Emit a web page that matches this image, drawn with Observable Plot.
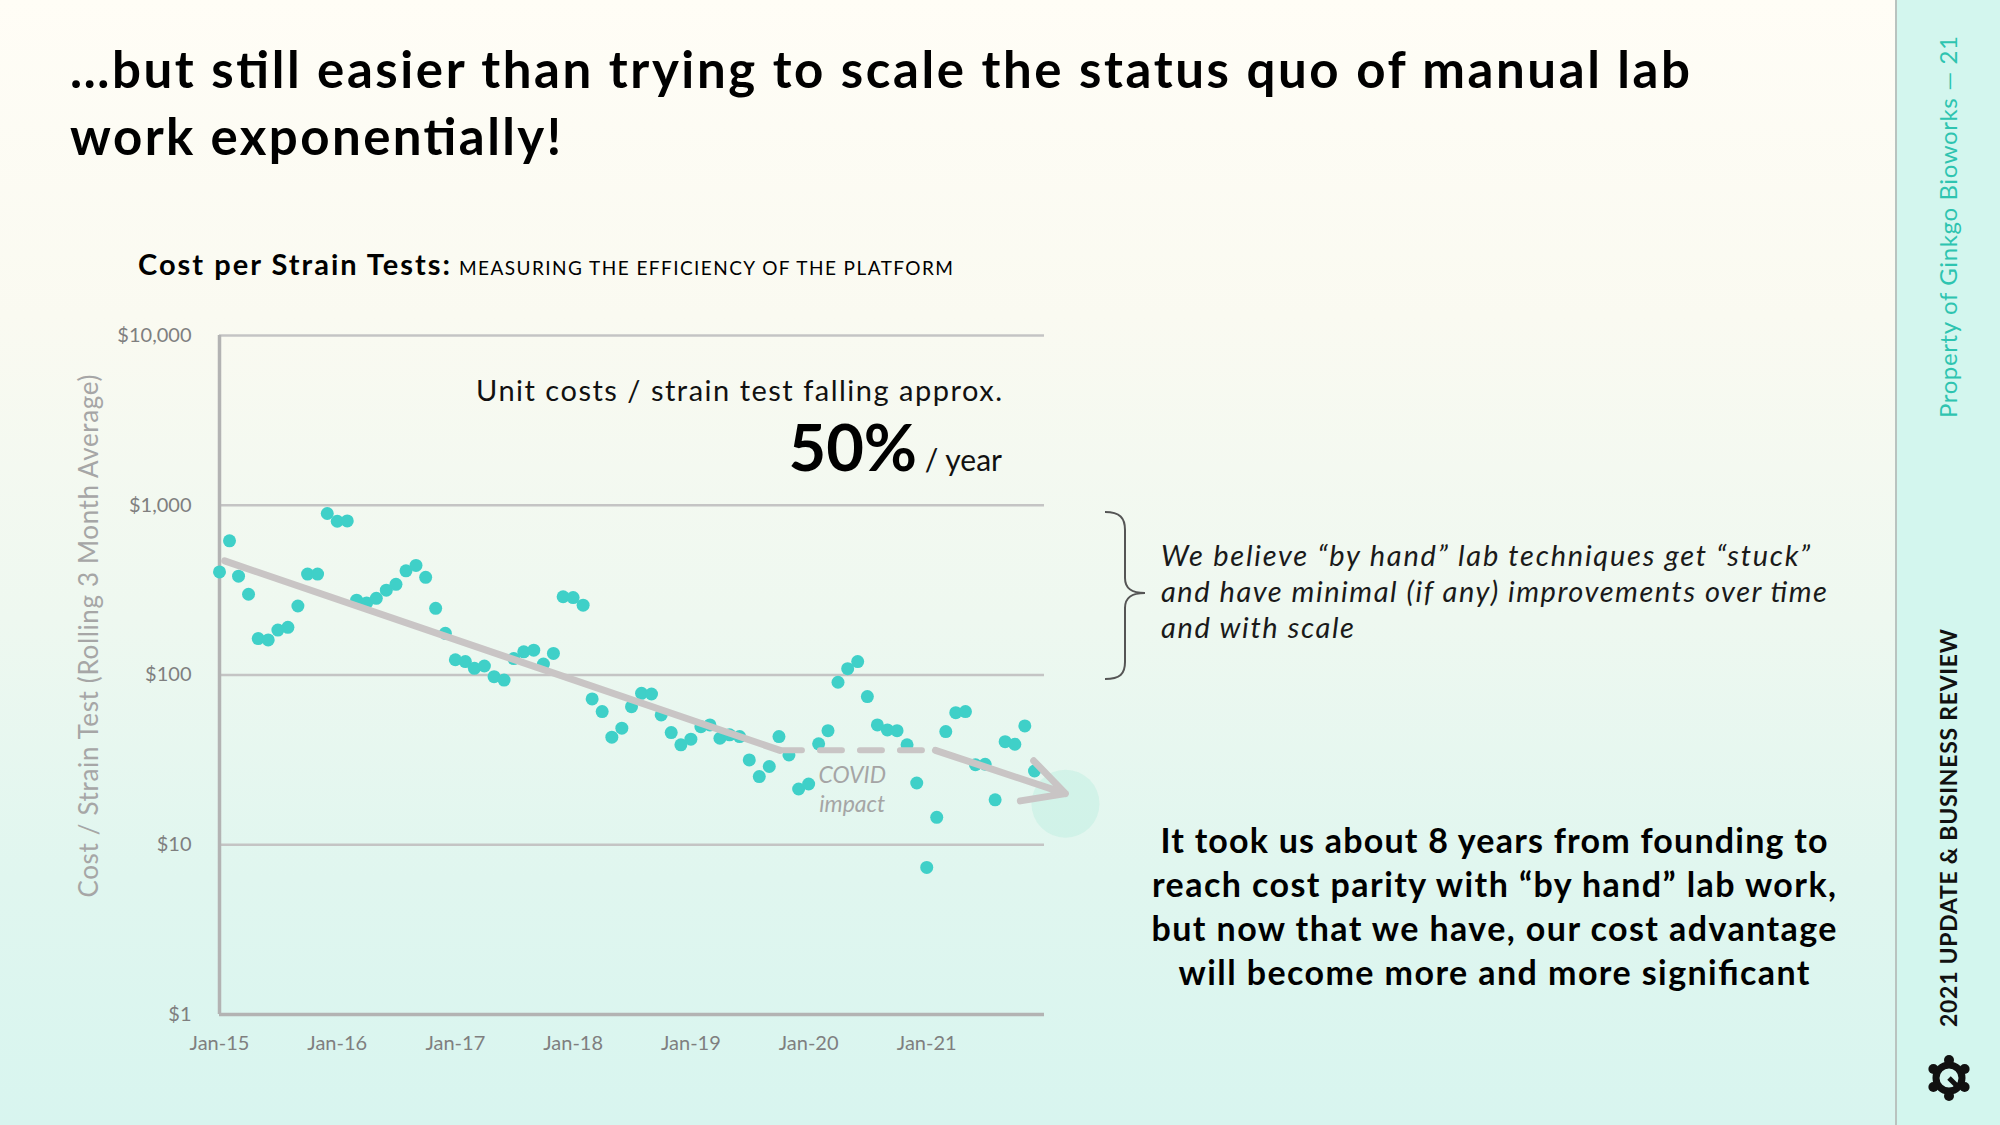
<!DOCTYPE html>
<html><head><meta charset="utf-8">
<script src="https://cdn.jsdelivr.net/npm/d3@7"></script>
<script src="https://cdn.jsdelivr.net/npm/@observablehq/plot@0.6"></script>
<style>
html,body{margin:0;padding:0;}
body{width:2000px;height:1125px;overflow:hidden;position:relative;font-family:Lato,"Noto Sans",sans-serif;
background:linear-gradient(180deg,#fffdf6 0%,#fafaf1 28%,#eef8f0 55%,#e0f6ef 78%,#d8f5ef 100%);}
#panel{position:absolute;left:1895px;top:0;width:105px;height:1125px;background:#d3f6ee;border-left:2px solid #b9c3bf;}
#chart{position:absolute;left:0;top:300px;}
#overlay{position:absolute;left:0;top:0;pointer-events:none;}
</style></head><body>
<div id="panel"></div>
<div id="chart"></div>
<svg id="overlay" width="2000" height="1125" font-family="Lato, 'Noto Sans', sans-serif">
  <text x="70" y="88" font-size="51" font-weight="700" fill="#000" textLength="1620" lengthAdjust="spacing">…but still easier than trying to scale the status quo of manual lab</text>
  <text x="70" y="155" font-size="51" font-weight="700" fill="#000" textLength="491" lengthAdjust="spacing">work exponentially!</text>
  <text x="138" y="275" font-size="29" font-weight="700" fill="#000" textLength="312" lengthAdjust="spacing">Cost per Strain Tests:</text>
  <text x="459" y="275" font-size="19" font-weight="400" fill="#000" textLength="494" lengthAdjust="spacing">MEASURING THE EFFICIENCY OF THE PLATFORM</text>
  <text x="1002" y="401" text-anchor="end" font-size="29" fill="#111" textLength="526" lengthAdjust="spacing">Unit costs / strain test falling approx.</text>
  <text x="1002" y="471" text-anchor="end" fill="#000"><tspan font-size="65" font-weight="700">50%</tspan><tspan font-size="30" fill="#111"> / year</tspan></text>
  <text x="88" y="636" transform="rotate(-90 88 636)" text-anchor="middle" dominant-baseline="central" font-size="26" fill="#a6a6a6" textLength="523" lengthAdjust="spacing">Cost / Strain Test (Rolling 3 Month Average)</text>
  <path d="M1105,512 C1120,512 1125,518 1125,530 L1125,578 C1125,589 1132,593 1145,593 C1132,593 1125,597 1125,608 L1125,662 C1125,674 1120,679 1105,679" fill="none" stroke="#555" stroke-width="2"/>
  <g font-size="29" font-style="italic" fill="#1a1a1a">
    <text x="1161" y="566" textLength="649" lengthAdjust="spacing">We believe “by hand” lab techniques get “stuck”</text>
    <text x="1161" y="602" textLength="666" lengthAdjust="spacing">and have minimal (if any) improvements over time</text>
    <text x="1161" y="638" textLength="193" lengthAdjust="spacing">and with scale</text>
  </g>
  <g font-size="34" font-weight="700" fill="#000" text-anchor="middle">
    <text x="1494" y="853" textLength="667" lengthAdjust="spacing">It took us about 8 years from founding to</text>
    <text x="1494" y="897" textLength="684" lengthAdjust="spacing">reach cost parity with “by hand” lab work,</text>
    <text x="1494" y="941" textLength="685" lengthAdjust="spacing">but now that we have, our cost advantage</text>
    <text x="1494" y="985" textLength="631" lengthAdjust="spacing">will become more and more significant</text>
  </g>
  <text transform="translate(1957,36) rotate(-90)" text-anchor="end" font-size="24" fill="#2ec4b0" textLength="382" lengthAdjust="spacing">Property of Ginkgo Bioworks  —  21</text>
  <text transform="translate(1957,1027) rotate(-90)" text-anchor="start" font-size="23" font-weight="700" fill="#111" textLength="398" lengthAdjust="spacing">2021 UPDATE &amp; BUSINESS REVIEW</text>
  <g transform="translate(1949,1078)" fill="none" stroke="#111">
    <circle r="13" stroke-width="7"/>
    <g fill="#111" stroke="none">
      <circle cx="0" cy="-18" r="5"/><circle cx="15.6" cy="-9" r="5"/><circle cx="15.6" cy="9" r="5"/>
      <circle cx="0" cy="18" r="5"/><circle cx="-15.6" cy="9" r="5"/><circle cx="-15.6" cy="-9" r="5"/>
    </g>
    <path d="M0,0 L10,10" stroke-width="5"/>
  </g>
</svg>
<script>
// ---- data ----
const startMonth = "2015-01-01";
const cost = [
  405, 617, 382, 299, 164, 161, 184, 191, 255, 393, 393, 894,
  805, 809, 276, 266, 283, 316, 342, 411, 442, 376, 247, 176,
  123, 120, 109.5, 113, 97.8, 93.3, 125, 137, 140, 116, 134, 289,
  286, 258, 72.3, 60.9, 43, 48.6, 65.1, 78, 77.3, 58.2, 45.8, 38.8,
  41.9, 49.6, 50.8, 42.4, 44.4, 43.4, 31.6, 25.2, 28.9, 43.4, 33.8, 21.3,
  22.8, 39.3, 47, 90.6, 109, 120, 74.6, 50.8, 47.5, 47, 38.8, 23.1,
  7.35, 14.5, 46.4, 60, 60.9, 29.6, 29.8, 18.4, 40.5, 39.1, 50.1, 27.2
];
const xTickDates = ["2015-01-01","2016-01-01","2017-01-01","2018-01-01","2019-01-01","2020-01-01","2021-01-01"];
const xTickLabels = ["Jan-15","Jan-16","Jan-17","Jan-18","Jan-19","Jan-20","Jan-21"];
const xDomain = ["2015-01-01","2022-01-01"];
const yTicks = [1, 10, 100, 1000, 10000];
const yTickLabels = ["$1","$10","$100","$1,000","$10,000"];
const trendSolid = [{date:"2015-01-17", value:470}, {date:"2019-10-04", value:36}];
const trendDashed = [{date:"2019-10-04", value:36}, {date:"2021-01-28", value:36}];
const trendArrow = [{x1:"2021-01-28", y1:36, x2:"2022-03-07", y2:20}];
const covidNote = [{date:"2020-05-15", value:21.6, text:"COVID\nimpact"}];

// ---- build ----
const D = s => new Date(s);
const data = cost.map((v, i) => ({date: d3.utcMonth.offset(D(startMonth), i), value: v}));
const solid = trendSolid.map(d => ({date: D(d.date), value: d.value}));
const dashed = trendDashed.map(d => ({date: D(d.date), value: d.value}));
const arrow = trendArrow.map(d => ({x1: D(d.x1), y1: d.y1, x2: D(d.x2), y2: d.y2}));
const glowPath = [solid[0], solid[1], {date: arrow[0].x1, value: arrow[0].y1}, {date: arrow[0].x2, value: arrow[0].y2}];
const note = covidNote.map(d => ({date: D(d.date), value: d.value, text: d.text}));
const tickDates = xTickDates.map(D);
const lineColor = "#c9c5c5";

const chart = Plot.plot({
  width: 1100, height: 800,
  marginLeft: 219, marginRight: 56, marginTop: 35, marginBottom: 86,
  style: {background: "transparent", fontFamily: "Lato, 'Noto Sans', sans-serif", fontSize: "20px", color: "#7f7f7f", overflow: "visible"},
  x: {type: "utc", domain: xDomain.map(D), ticks: tickDates, tickSize: 0, tickPadding: 21, label: null,
      tickFormat: d => xTickLabels[tickDates.findIndex(t => +t === +d)]},
  y: {type: "log", domain: [1, 10000], ticks: yTicks, tickSize: 0, tickPadding: 28, label: null,
      tickFormat: d => yTickLabels[yTicks.indexOf(d)]},
  marks: [
    Plot.ruleY(yTicks.slice(1), {stroke: "#c4c4c4", strokeWidth: 2.5}),
    Plot.line(glowPath, {x: "date", y: "value", stroke: "#8fe3cf", strokeWidth: 55, strokeOpacity: 0.3, dy: 18, ariaLabel: "glow"}),
    Plot.dot([glowPath[3]], {x: "date", y: "value", r: 34, fill: "#9be6d3", fillOpacity: 0.25, dy: 10, ariaLabel: "glow2"}),
    Plot.ruleY([1], {stroke: "#b3b3b3", strokeWidth: 3.5}),
    Plot.ruleX([D(xDomain[0])], {stroke: "#b3b3b3", strokeWidth: 3.5}),
    Plot.dot(data, {x: "date", y: "value", r: 6.5, fill: "#3fd0c8"}),
    Plot.line(solid, {x: "date", y: "value", stroke: lineColor, strokeWidth: 7}),
    Plot.line(dashed, {x: "date", y: "value", stroke: lineColor, strokeWidth: 6, strokeDasharray: "22,18"}),
    Plot.arrow(arrow, {x1: "x1", y1: "y1", x2: "x2", y2: "y2", stroke: lineColor, strokeWidth: 7, headLength: 26, headAngle: 55}),
    Plot.text(note, {x: "date", y: "value", text: "text", fontStyle: "italic", fill: "#a5a5a5", fontSize: 23, lineHeight: 1.3})
  ]
});
document.getElementById("chart").appendChild(chart);
const svg = chart.tagName.toLowerCase() === "svg" ? chart : chart.querySelector("svg");
svg.querySelectorAll('g[aria-label="glow"]').forEach(g => g.style.filter = "blur(16px)");
svg.querySelectorAll('g[aria-label="glow2"]').forEach(g => g.style.filter = "blur(24px)");
</script>
</body></html>
